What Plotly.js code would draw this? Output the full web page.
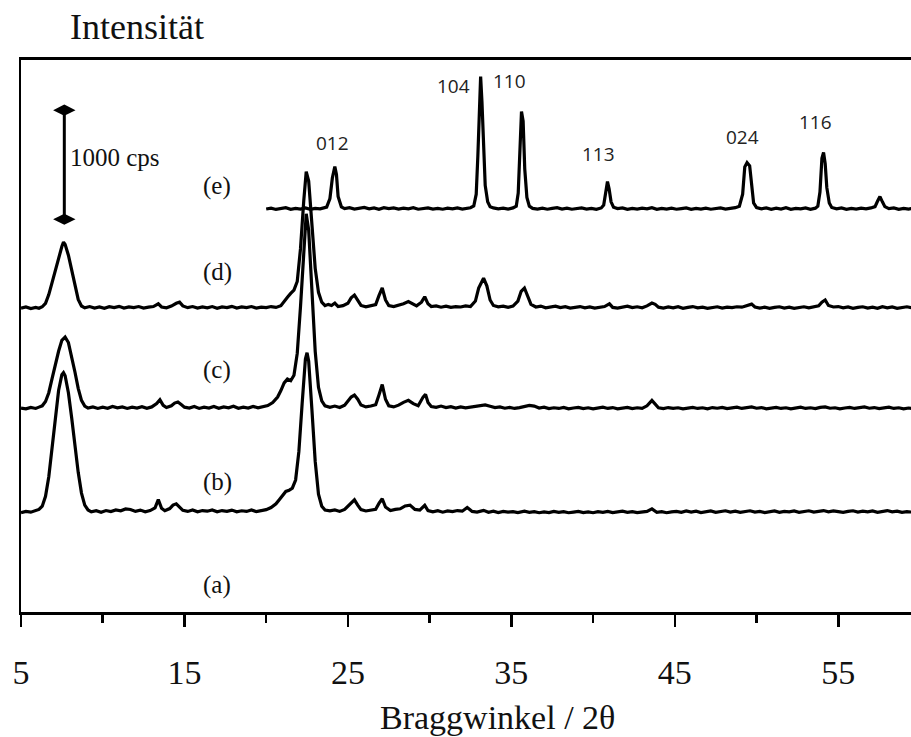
<!DOCTYPE html>
<html>
<head>
<meta charset="utf-8">
<script src="https://cdn.plot.ly/plotly-3.0.1.min.js"></script>
<style>
  html, body { margin: 0; padding: 0; background: #fff; }
  #chart { width: 911px; height: 737px; }
</style>
</head>
<body>
<div id="chart"></div>
<script>
// XRD patterns, [2θ (deg), intensity above own baseline (cps)]
const patternB = [
  [5.0,10],[5.3,22],[5.6,15],[5.9,28],[6.1,40],[6.3,70],[6.5,160],[6.7,340],[6.9,610],[7.1,890],[7.3,1130],[7.5,1275],[7.6,1294],[7.7,1265],[7.9,1110],[8.1,880],[8.3,620],[8.5,380],[8.7,190],[8.9,80],[9.1,35],[9.3,18],
  [9.6,28],[9.9,14],[10.2,30],[10.5,20],[10.8,35],[11.1,28],[11.4,45],[11.7,40],[12.0,22],[12.3,34],[12.6,18],[12.9,30],[13.2,55],[13.4,130],[13.6,50],[13.8,28],[14.1,48],[14.3,80],[14.5,92],[14.7,66],[14.9,32],[15.2,22],[15.5,36],[15.8,18],[16.1,30],[16.4,24],[16.7,36],[17.0,18],[17.3,30],[17.6,22],[17.9,34],[18.2,18],[18.5,28],[18.8,22],[19.1,36],[19.4,20],[19.7,30],
  [20.0,38],[20.3,58],[20.6,92],[20.8,130],[21.0,170],[21.2,205],[21.4,215],[21.6,235],[21.8,310],[22.0,570],[22.2,1010],[22.4,1420],[22.5,1477],[22.6,1400],[22.8,950],[23.0,480],[23.2,180],[23.4,70],[23.6,35],[23.9,28],[24.2,36],[24.5,22],[24.8,40],[25.0,70],[25.2,105],[25.4,128],[25.6,80],[25.8,38],[26.1,26],[26.4,34],[26.7,42],[26.9,95],[27.1,138],[27.3,62],[27.6,30],[27.9,40],[28.2,46],[28.5,72],[28.8,80],[29.1,40],[29.4,34],[29.7,78],[29.9,30],
  [30.2,18],[30.5,28],[30.8,15],[31.1,26],[31.4,20],[31.7,30],[32.0,24],[32.3,58],[32.6,22],[32.9,16],[33.3,32],[33.6,14],[33.9,24],[34.2,12],[34.5,22],[34.8,15],[35.1,20],[35.4,12],[35.8,24],[36.1,14],[36.4,20],[36.7,10],[37.0,18],[37.3,12],[37.6,22],[37.9,14],[38.2,20],[38.5,10],[38.8,16],[39.1,22],[39.4,12],[39.7,18],
  [40.0,10],[40.3,20],[40.6,14],[40.9,22],[41.2,12],[41.5,18],[41.8,24],[42.1,14],[42.4,20],[42.7,12],[43.0,18],[43.3,22],[43.6,45],[43.9,14],[44.2,20],[44.5,10],[44.8,18],[45.1,22],[45.4,14],[45.7,26],[46.0,16],[46.3,24],[46.6,12],[46.9,20],[47.2,26],[47.5,14],[47.8,22],[48.1,28],[48.4,16],[48.7,24],[49.0,14],[49.3,22],[49.6,28],[49.9,16],
  [50.2,22],[50.5,12],[50.8,20],[51.1,26],[51.4,14],[51.7,22],[52.0,18],[52.3,26],[52.6,14],[52.9,20],[53.2,28],[53.5,16],[53.8,24],[54.1,30],[54.4,18],[54.7,26],[55.0,20],[55.3,14],[55.6,22],[55.9,28],[56.2,16],[56.5,24],[56.8,18],[57.1,26],[57.4,14],[57.7,22],[58.0,30],[58.3,18],[58.6,24],[58.9,14],[59.2,20],[59.5,16]
];

const patternC = [
  [5.0,20],[5.3,12],[5.6,26],[5.9,16],[6.1,28],[6.3,40],[6.5,80],[6.7,160],[6.9,290],[7.1,420],[7.3,540],[7.5,640],[7.7,670],[7.9,620],[8.1,500],[8.3,350],[8.5,200],[8.7,90],[8.9,38],[9.1,20],[9.4,30],[9.7,16],
  [10.0,28],[10.3,18],[10.6,34],[10.9,22],[11.2,30],[11.5,16],[11.8,28],[12.1,20],[12.4,32],[12.7,18],[13.0,30],[13.3,60],[13.5,95],[13.7,45],[13.9,24],[14.2,40],[14.4,65],[14.6,75],[14.8,52],[15.0,28],[15.3,20],[15.6,34],[15.9,16],[16.2,28],[16.5,20],[16.8,34],[17.1,18],[17.4,30],[17.7,22],[18.0,36],[18.3,18],[18.6,28],[18.9,20],[19.2,34],[19.5,22],[19.8,30],
  [20.1,42],[20.4,70],[20.7,120],[20.9,180],[21.1,250],[21.3,285],[21.5,270],[21.7,320],[21.9,520],[22.1,950],[22.3,1500],[22.45,1800],[22.6,1650],[22.8,1100],[23.0,540],[23.2,210],[23.4,85],[23.6,40],[23.9,26],[24.2,38],[24.5,24],[24.8,46],[25.0,80],[25.2,120],[25.4,138],[25.6,100],[25.8,48],[26.1,30],[26.4,38],[26.7,50],[26.9,140],[27.1,235],[27.3,100],[27.5,40],[27.8,30],[28.1,46],[28.4,72],[28.7,90],[29.0,60],[29.3,40],[29.6,120],[29.75,145],[29.9,70],
  [30.1,34],[30.4,26],[30.7,38],[31.0,24],[31.3,32],[31.6,20],[31.9,30],[32.2,22],[32.5,28],[32.8,34],[33.1,40],[33.4,48],[33.7,36],[34.0,24],[34.3,30],[34.6,18],[34.9,26],[35.2,16],[35.5,24],[35.8,32],[36.1,44],[36.4,38],[36.7,20],[37.0,28],[37.3,14],[37.6,22],[37.9,16],[38.2,26],[38.5,12],[38.8,20],[39.1,26],[39.4,14],[39.7,22],
  [40.0,12],[40.3,20],[40.6,28],[40.9,16],[41.2,24],[41.5,12],[41.8,20],[42.1,26],[42.4,14],[42.7,22],[43.0,16],[43.3,40],[43.6,90],[43.8,60],[44.0,22],[44.3,14],[44.6,24],[44.9,16],[45.2,22],[45.5,12],[45.8,20],[46.1,26],[46.4,16],[46.7,22],[47.0,12],[47.3,24],[47.6,18],[47.9,26],[48.2,14],[48.5,20],[48.8,28],[49.1,16],[49.4,22],[49.7,30],
  [50.0,18],[50.3,24],[50.6,12],[50.9,20],[51.2,26],[51.5,16],[51.8,22],[52.1,12],[52.4,20],[52.7,28],[53.0,16],[53.3,22],[53.6,14],[53.9,26],[54.2,30],[54.5,18],[54.8,22],[55.1,12],[55.4,20],[55.7,26],[56.0,16],[56.3,22],[56.6,30],[56.9,18],[57.2,24],[57.5,14],[57.8,22],[58.1,28],[58.4,16],[58.7,22],[59.0,12],[59.3,20],[59.5,16]
];

const patternD = [
  [5.0,16],[5.3,26],[5.6,12],[5.9,22],[6.1,14],[6.3,28],[6.5,60],[6.7,140],[6.9,250],[7.1,370],[7.3,480],[7.5,580],[7.6,620],[7.7,600],[7.9,500],[8.1,360],[8.3,210],[8.5,95],[8.7,35],[8.9,18],[9.2,30],[9.5,16],[9.8,26],
  [10.1,14],[10.4,28],[10.7,20],[11.0,32],[11.3,16],[11.6,26],[11.9,20],[12.2,30],[12.5,16],[12.8,24],[13.1,30],[13.4,55],[13.6,26],[13.9,18],[14.2,34],[14.5,60],[14.7,70],[14.9,36],[15.2,20],[15.5,30],[15.8,16],[16.1,26],[16.4,18],[16.7,30],[17.0,14],[17.3,26],[17.6,20],[17.9,32],[18.2,16],[18.5,26],[18.8,20],[19.1,30],[19.4,16],[19.7,24],
  [20.0,20],[20.3,30],[20.6,22],[20.9,38],[21.1,80],[21.3,115],[21.5,150],[21.7,180],[21.9,260],[22.1,560],[22.3,1000],[22.45,1266],[22.6,1180],[22.8,760],[23.0,380],[23.2,160],[23.4,70],[23.6,38],[23.8,50],[24.0,40],[24.2,62],[24.4,30],[24.7,38],[25.0,60],[25.2,110],[25.4,135],[25.6,90],[25.8,40],[26.1,28],[26.4,36],[26.7,48],[26.9,130],[27.1,200],[27.3,90],[27.5,38],[27.8,30],[28.1,42],[28.4,56],[28.7,75],[28.9,60],[29.2,36],[29.5,70],[29.7,120],[29.9,55],
  [30.1,30],[30.4,36],[30.7,24],[31.0,34],[31.3,22],[31.6,30],[31.9,26],[32.2,36],[32.5,30],[32.8,80],[33.0,200],[33.3,290],[33.5,220],[33.7,90],[33.9,40],[34.2,28],[34.5,34],[34.8,22],[35.1,34],[35.4,80],[35.6,170],[35.8,200],[36.0,130],[36.2,50],[36.5,26],[36.8,34],[37.1,18],[37.4,26],[37.7,34],[38.0,20],[38.3,28],[38.6,16],[38.9,24],[39.2,30],[39.5,18],[39.8,26],
  [40.1,16],[40.4,24],[40.7,30],[41.0,55],[41.2,22],[41.5,16],[41.8,24],[42.1,34],[42.4,20],[42.7,28],[43.0,18],[43.3,36],[43.6,62],[43.8,50],[44.0,24],[44.3,16],[44.6,26],[44.9,18],[45.2,28],[45.5,14],[45.8,22],[46.1,30],[46.4,18],[46.7,24],[47.0,14],[47.3,22],[47.6,28],[47.9,16],[48.2,24],[48.5,20],[48.8,28],[49.1,24],[49.4,36],[49.7,52],[49.9,26],
  [50.2,16],[50.5,24],[50.8,14],[51.1,22],[51.4,28],[51.7,16],[52.0,24],[52.3,14],[52.6,22],[52.9,28],[53.2,18],[53.5,24],[53.8,36],[54.0,70],[54.2,90],[54.4,40],[54.7,26],[55.0,30],[55.3,18],[55.6,26],[55.9,14],[56.2,22],[56.5,28],[56.8,16],[57.1,24],[57.4,14],[57.7,28],[58.0,18],[58.3,26],[58.6,14],[58.9,22],[59.2,28],[59.5,18]
];

const patternE = [
  [20.0,14],[20.3,22],[20.6,10],[20.9,18],[21.2,26],[21.5,12],[21.8,20],[22.1,14],[22.4,24],[22.7,12],[23.0,20],[23.3,16],[23.5,24],[23.7,32],[23.9,110],[24.05,300],[24.2,404],[24.3,330],[24.4,130],[24.6,34],[24.8,18],[25.1,26],[25.4,14],[25.7,22],[26.0,28],[26.3,16],[26.6,24],[26.9,12],[27.2,26],[27.5,18],[27.8,24],[28.1,14],[28.4,22],[28.7,16],[29.0,26],[29.3,12],[29.6,20],[29.9,24],
  [30.2,14],[30.5,20],[30.8,12],[31.1,22],[31.4,16],[31.7,24],[32.0,14],[32.3,20],[32.5,26],[32.7,42],[32.85,150],[32.95,500],[33.05,1050],[33.12,1229],[33.2,1000],[33.3,520],[33.4,230],[33.55,80],[33.7,36],[33.9,24],[34.2,16],[34.5,22],[34.8,14],[35.1,24],[35.3,40],[35.42,160],[35.52,600],[35.62,908],[35.72,820],[35.82,380],[35.95,120],[36.1,40],[36.3,20],[36.6,14],[36.9,22],[37.2,12],[37.5,20],[37.8,26],[38.1,14],[38.4,22],[38.7,12],[39.0,18],[39.3,24],[39.6,14],[39.9,20],
  [40.2,12],[40.5,24],[40.65,50],[40.78,170],[40.88,266],[40.98,200],[41.1,80],[41.25,30],[41.5,18],[41.8,24],[42.1,12],[42.4,20],[42.7,14],[43.0,22],[43.3,16],[43.6,26],[43.9,12],[44.2,20],[44.5,14],[44.8,22],[45.1,12],[45.4,18],[45.7,24],[46.0,12],[46.3,20],[46.6,14],[46.9,22],[47.2,12],[47.5,18],[47.8,24],[48.1,14],[48.4,20],[48.7,26],[48.95,40],[49.15,150],[49.28,400],[49.42,440],[49.58,410],[49.7,220],[49.82,70],
  [50.0,28],[50.3,16],[50.6,24],[50.9,12],[51.2,22],[51.5,14],[51.8,26],[52.1,12],[52.4,20],[52.7,16],[53.0,24],[53.3,12],[53.6,22],[53.75,40],[53.88,170],[54.0,480],[54.1,532],[54.2,430],[54.3,210],[54.45,70],[54.6,28],[54.9,16],[55.2,24],[55.5,12],[55.8,20],[56.1,14],[56.4,22],[56.7,16],[57.0,24],[57.25,36],[57.4,85],[57.55,128],[57.7,80],[57.85,36],[58.1,18],[58.4,24],[58.7,12],[59.0,20],[59.3,14],[59.5,18]
];

// vertical stacking of the patterns (cps)
const sampleNames = ['(b)', '(c)', '(d)', '(e)'];
const sampleOffsets = [900, 1850, 2770, 3680];

// hematite reflections marked in pattern (e)
const hklLabels = ['012', '104', '110', '113', '024', '116'];
const hklTheta  = [24.05, 31.49, 34.91, 40.34, 49.15, 53.6];
const hklCps    = [4303, 4826, 4872, 4202, 4358, 4495];

// sample labels (a)-(e)
const sampleLabels = ['(a)', '(b)', '(c)', '(d)', '(e)'];
const sampleLabelCps = [248, 1193, 2220, 3119, 3908];
const sampleLabelTheta = 17.0;

// intensity scale bar
const scaleBarTheta = [7.65, 7.65];
const scaleBarCps = [3600, 4600];
const scaleBarText = '1000 cps';

// axis ticks
const majorTicks = [5, 15, 25, 35, 45, 55];
const minorTicks = [10, 20, 30, 40, 50];

const SERIF = 'Liberation Serif, DejaVu Serif, serif';
const SANS = 'Open Sans, Noto Sans, sans-serif';

const patterns = [patternB, patternC, patternD, patternE];
const traces = patterns.map((p, i) => ({
  type: 'scatter',
  mode: 'lines',
  x: p.map(q => q[0]),
  y: p.map(q => q[1] + sampleOffsets[i]),
  name: sampleNames[i],
  line: { color: '#000', width: 3.2 },
  hoverinfo: 'skip',
  showlegend: false
}));

traces.push({
  type: 'scatter',
  mode: 'lines+markers',
  x: scaleBarTheta,
  y: scaleBarCps,
  line: { color: '#000', width: 3 },
  marker: { symbol: 'diamond-wide', size: 16, color: '#000' },
  hoverinfo: 'skip',
  showlegend: false
});

const annotations = [];
hklLabels.forEach((t, i) => annotations.push({
  x: hklTheta[i], y: hklCps[i], xref: 'x', yref: 'y',
  text: t, showarrow: false, xanchor: 'center', yanchor: 'middle',
  font: { family: SANS, size: 19, color: '#222' }
}));
sampleLabels.forEach((t, i) => annotations.push({
  x: sampleLabelTheta, y: sampleLabelCps[i], xref: 'x', yref: 'y',
  text: t, showarrow: false, xanchor: 'center', yanchor: 'middle',
  font: { family: SERIF, size: 25, color: '#111' }
}));
annotations.push({
  x: 7.9, y: 4165, xref: 'x', yref: 'y', text: scaleBarText,
  showarrow: false, xanchor: 'left', yanchor: 'middle',
  font: { family: SERIF, size: 25, color: '#111' }
});
annotations.push({
  x: 0.053, y: 1.06, xref: 'paper', yref: 'paper', text: 'Intensität',
  showarrow: false, xanchor: 'left', yanchor: 'middle',
  font: { family: SERIF, size: 36, color: '#111' }
});
annotations.push({
  x: 0.535, y: -0.192, xref: 'paper', yref: 'paper', text: 'Braggwinkel / 2θ',
  showarrow: false, xanchor: 'center', yanchor: 'middle',
  font: { family: SERIF, size: 34, color: '#111' }
});

const layout = {
  width: 911, height: 737,
  margin: { l: 21, r: 0, t: 60, b: 125, pad: 0 },
  paper_bgcolor: '#fff', plot_bgcolor: '#fff',
  showlegend: false,
  xaxis: {
    range: [5, 59.45],
    showline: true, linecolor: '#000', linewidth: 3, mirror: true,
    showgrid: false, zeroline: false,
    tickmode: 'array', tickvals: majorTicks, ticktext: majorTicks.map(String),
    ticks: 'outside', ticklen: 12, tickwidth: 2.5, tickcolor: '#000',
    ticklabelstandoff: 16,
    tickfont: { family: SERIF, size: 34, color: '#111' },
    minor: { tickvals: minorTicks, ticks: 'outside', ticklen: 8, tickwidth: 2.5, tickcolor: '#000', showgrid: false },
    fixedrange: true
  },
  yaxis: {
    range: [0, 5060],
    showline: true, linecolor: '#000', linewidth: 2,
    showgrid: false, zeroline: false, showticklabels: false, ticks: '',
    fixedrange: true
  },
  annotations: annotations
};

Plotly.newPlot('chart', traces, layout, { staticPlot: true, displayModeBar: false });
</script>
</body>
</html>
